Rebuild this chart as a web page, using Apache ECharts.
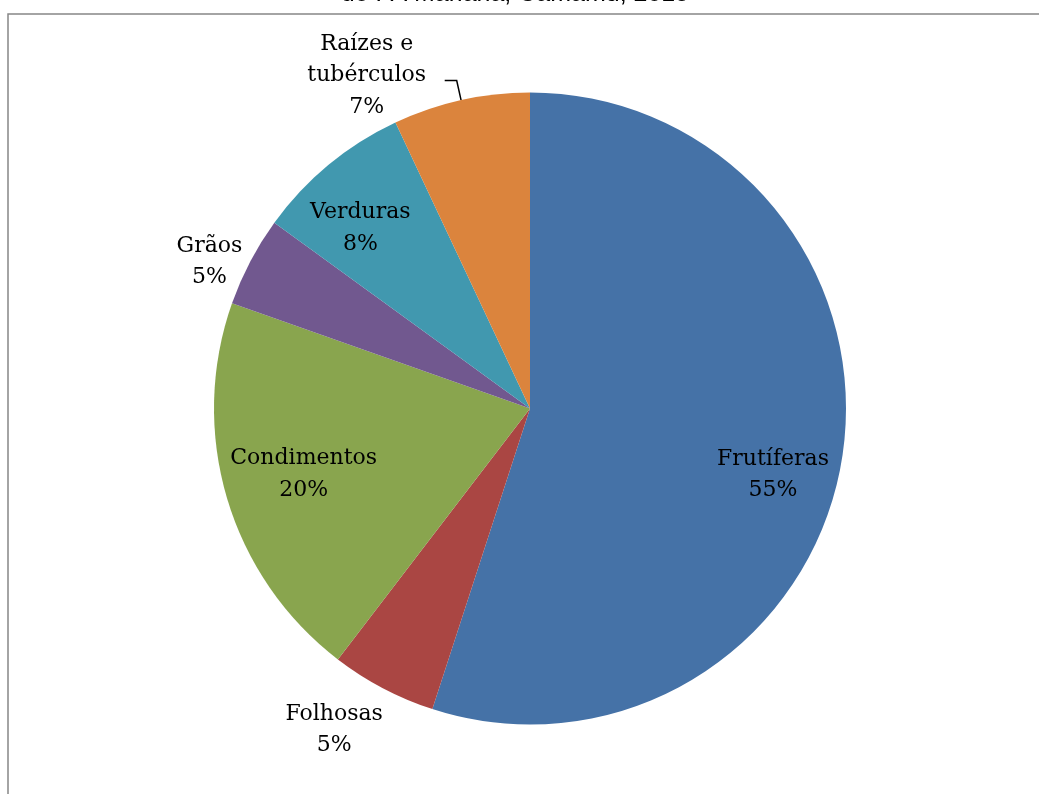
<!DOCTYPE html>
<html>
<head>
<meta charset="utf-8">
<script src="https://cdn.jsdelivr.net/npm/echarts@6/dist/echarts.min.js"></script>
<style>
	html, body { margin: 0; padding: 0; background: #fff; }
	#pieChart { width: 1039px; height: 794px; }
</style>
</head>
<body>
<div id="pieChart"></div>
<script>
	// dados (fatias em %)
	var categorias = ['Frutíferas', 'Folhosas', 'Condimentos', 'Grãos', 'Verduras', 'Raízes e\ntubérculos'];
	var valores = [55, 5.4, 20, 4.6, 8, 7];
	var cores = ['#4572A7', '#AA4643', '#89A54E', '#71588F', '#4198AF', '#DB843D'];
	var titulo = 'do PA Mariana, Camamu, 2015';

	// deslocamento dos rótulos internos (dx, dy)
	var ajusteRotulo = [[84, 41], [-121, 179], [-72, 20], [-178, -72], [-67, -56], [0, 0]];

	var fonteRotulo = 'DejaVu Serif';
	var tamRotulo = 22;

	function initPie(id) {
		var seriesData = [];
		for (var i = 0; i < categorias.length; i++) {
			var item = {
				name: categorias[i],
				value: valores[i],
				itemStyle: { color: cores[i] }
			};
			if (i === categorias.length - 1) {
				// raízes: rótulo de fora com linha de chamada
				item.label = {
					position: 'outside',
					distanceToLabelLine: 14,
					padding: [0, 0, 10, 0],
					formatter: function (p) {
						var linhas = p.name.split('\n');
						linhas.push(Math.round(p.percent) + '%');
						return linhas.map(function (l) { return '{c|' + l + '}'; }).join('\n');
					},
					rich: {
						c: {
							width: 128,
							align: 'center',
							fontFamily: fonteRotulo,
							fontSize: tamRotulo,
							lineHeight: 31.5,
							color: '#000'
						}
					}
				};
				item.labelLine = { show: true, length: 20, length2: 12 };
			}
			seriesData.push(item);
		}

		var option = {
			animation: false,
			backgroundColor: '#fff',
			graphic: [{
				type: 'rect',
				shape: { x: 8, y: 14, width: 1100, height: 900 },
				style: { fill: 'none', stroke: '#878787', lineWidth: 1.5 },
				silent: true
			}, {
				type: 'text',
				x: 515,
				y: 7,
				style: {
					text: titulo,
					align: 'center',
					verticalAlign: 'bottom',
					font: '25px "Liberation Sans", Arial, sans-serif',
					fill: '#000'
				},
				silent: true
			}],
			series: [{
				type: 'pie',
				center: [530, 408.5],
				radius: 316,
				startAngle: 90,
				clockwise: true,
				avoidLabelOverlap: false,
				emphasis: { disabled: true },
				label: {
					show: true,
					position: 'inside',
					color: '#000',
					fontFamily: fonteRotulo,
					fontSize: tamRotulo,
					lineHeight: 31.5,
					formatter: function (p) {
						return p.name + '\n' + Math.round(p.percent) + '%';
					}
				},
				labelLine: { show: false, lineStyle: { color: '#000', width: 1.5 } },
				labelLayout: function (params) {
					var d = ajusteRotulo[params.dataIndex];
					return { dx: d[0], dy: d[1] };
				},
				data: seriesData
			}]
		};
		var myChartPie = echarts.init(document.getElementById(id));
		myChartPie.setOption(option);
	}

	initPie('pieChart');
</script>
</body>
</html>
